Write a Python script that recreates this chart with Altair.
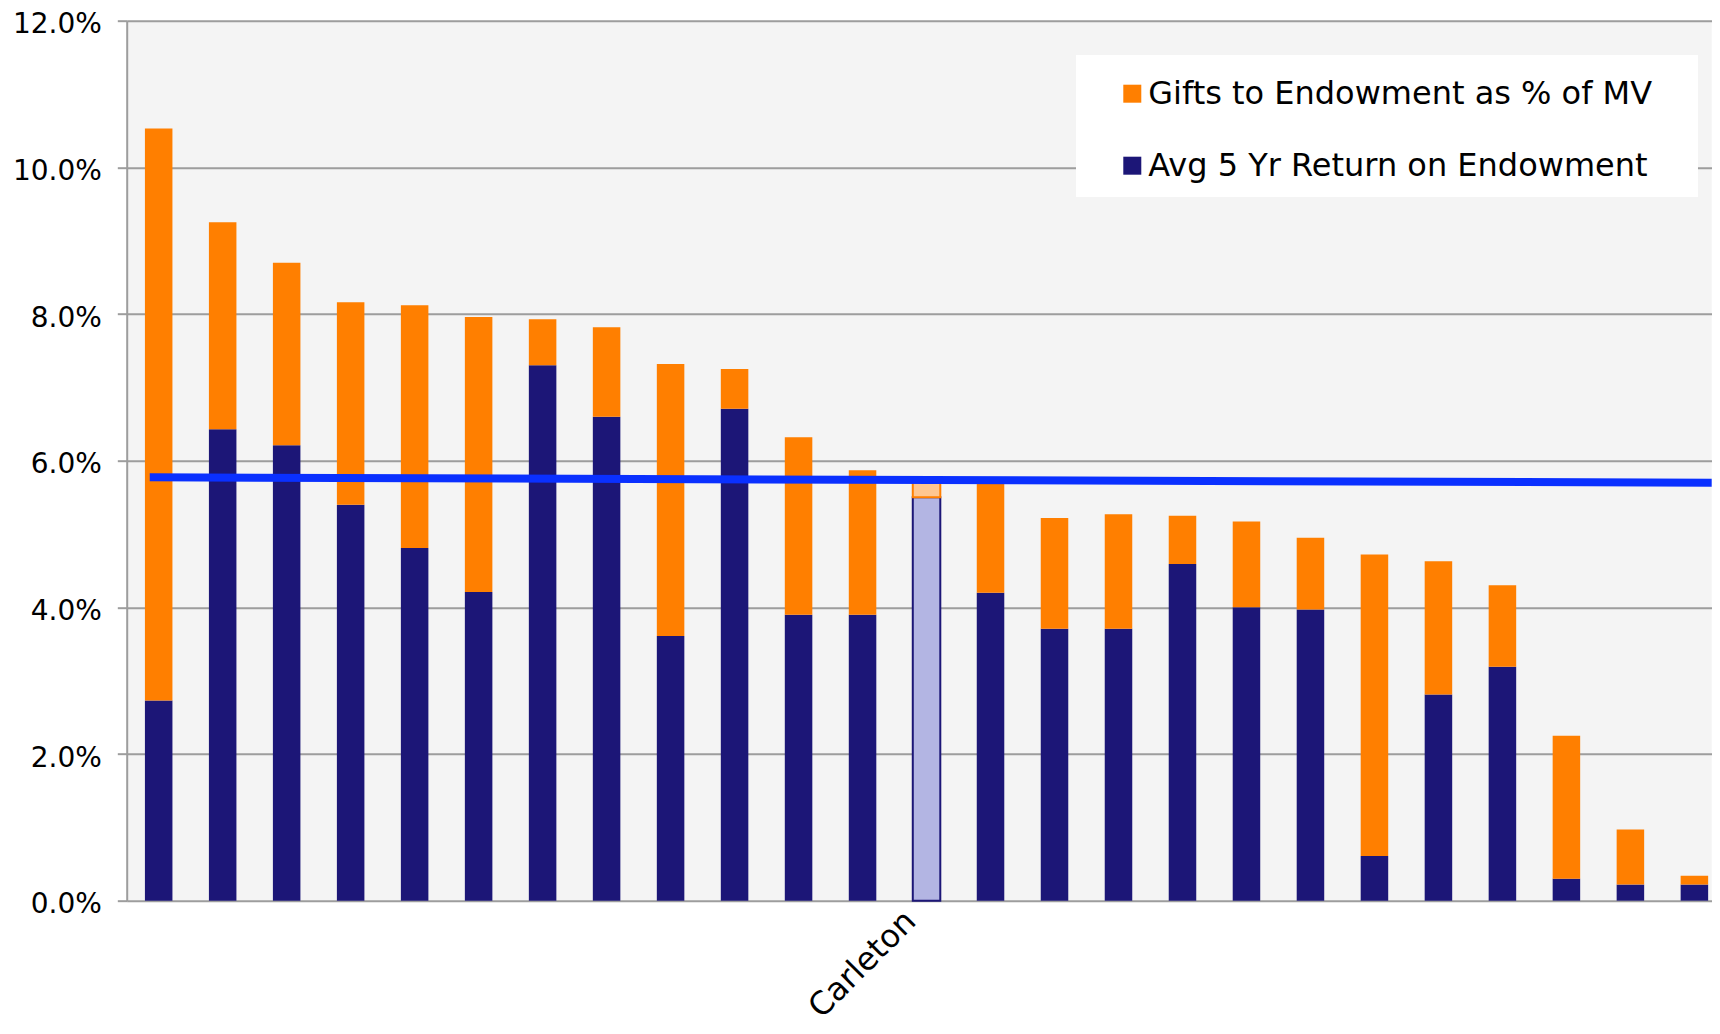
import altair as alt
import pandas as pd

# ---- data ----
schools = [
    "Peer 1", "Peer 2", "Peer 3", "Peer 4", "Peer 5", "Peer 6", "Peer 7",
    "Peer 8", "Peer 9", "Peer 10", "Peer 11", "Peer 12", "Carleton",
    "Peer 13", "Peer 14", "Peer 15", "Peer 16", "Peer 17", "Peer 18",
    "Peer 19", "Peer 20", "Peer 21", "Peer 22", "Peer 23", "Peer 24",
]
returns = [2.73, 6.43, 6.21, 5.40, 4.81, 4.21, 7.30, 6.60, 3.61, 6.71, 3.90, 3.90, 5.50,
           4.20, 3.71, 3.71, 4.59, 4.00, 3.97, 0.61, 2.81, 3.19, 0.30, 0.22, 0.22]
gifts = [7.80, 2.82, 2.49, 2.76, 3.31, 3.75, 0.63, 1.22, 3.71, 0.54, 2.42, 1.97, 0.24,
         1.49, 1.51, 1.56, 0.66, 1.17, 0.98, 4.11, 1.82, 1.11, 1.95, 0.75, 0.12]
# average / trend line (category-index units, percent)
trend_pos = [0.36, 24.77]
trend_val = [5.774, 5.700]
y_ticks = [0, 2, 4, 6, 8, 10, 12]

RET = "Avg 5 Yr Return on Endowment"
GIFT = "Gifts to Endowment as % of MV"
ORANGE = "#FF7F00"
NAVY = "#1C1677"
LAV = "#B3B5E3"
LIGHT_OR = "#FFC690"
BLUE = "#0A30FF"
GRID = "#9d9d9d"
FONT = "DejaVu Sans"

rows = []
for s, r, g in zip(schools, returns, gifts):
    rows.append({"school": s, "series": RET, "lo": 0.0, "hi": r})
    rows.append({"school": s, "series": GIFT, "lo": r, "hi": round(r + g, 3)})
df = pd.DataFrame(rows)
trend_df = pd.DataFrame({"pos": trend_pos, "val": trend_val})

x_enc = alt.X(
    "school:N", sort=schools, title=None,
    scale=alt.Scale(domain=schools, paddingInner=0.57, paddingOuter=0.17, align=0.8375, round=False),
    axis=alt.Axis(
        labelExpr="datum.value == 'Carleton' ? datum.value : ''",
        labelAngle=-45, labelAlign="right", labelBaseline="middle",
        labelFontSize=32, labelFont=FONT, labelColor="black",
        labelPadding=15, labelOffset=-16, labelLimit=500,
        ticks=False, domain=False, grid=False,
    ),
)


def y_enc(field):
    return alt.Y(
        f"{field}:Q", title=None,
        scale=alt.Scale(domain=[0, 12], nice=False, zero=True),
        axis=alt.Axis(
            values=y_ticks,
            labelExpr="format(datum.value, '.1f') + '%'",
            grid=True, gridColor=GRID, gridWidth=2,
            domainColor=GRID, domainWidth=2,
            tickColor=GRID, tickWidth=2, tickSize=9.4,
            labelPadding=16, labelOffset=4, labelFontSize=28, labelFont=FONT, labelColor="black",
        ),
    )


box = alt.Chart(pd.DataFrame({"a": [0]})).mark_rect(fill="white").encode(
    x=alt.value(949.3), x2=alt.value(1571.3), y=alt.value(34.3), y2=alt.value(176.3)
)

bars = alt.Chart(df).transform_filter(alt.datum.school != "Carleton").mark_bar().encode(
    x=x_enc, y=y_enc("lo"), y2="hi:Q",
    color=alt.Color(
        "series:N",
        scale=alt.Scale(domain=[GIFT, RET], range=[ORANGE, NAVY]),
        legend=alt.Legend(
            title=None, orient="none", legendX=989.6, legendY=57,
            symbolType="square", symbolSize=324, symbolStrokeWidth=0,
            labelFontSize=32, labelFont=FONT, labelColor="black",
            rowPadding=40, padding=0, labelOffset=0, labelLimit=0,
        ),
    ),
)

carl_ret = alt.Chart(df).transform_filter(
    (alt.datum.school == "Carleton") & (alt.datum.series == RET)
).mark_bar(fill=LAV, stroke=NAVY, strokeWidth=2).encode(x=x_enc, y=y_enc("lo"), y2="hi:Q")

carl_gift = alt.Chart(df).transform_filter(
    (alt.datum.school == "Carleton") & (alt.datum.series == GIFT)
).mark_bar(fill=LIGHT_OR, stroke=ORANGE, strokeWidth=2).encode(x=x_enc, y=y_enc("lo"), y2="hi:Q")

trend = alt.Chart(trend_df).mark_line(color=BLUE, strokeWidth=8, strokeCap="butt").encode(
    x=alt.X("pos:Q", scale=alt.Scale(domain=[0, 24.77], nice=False, zero=False), axis=None),
    y=y_enc("val"),
)

bar_layers = alt.layer(box, bars, carl_ret, carl_gift)

chart = (
    alt.layer(bar_layers, trend)
    .resolve_scale(x="independent")
    .properties(
        width=1585, height=880,
        autosize=alt.AutoSizeParams(type="none"),
        padding={"left": 118.7, "top": 12.7, "right": 0, "bottom": 125},
    )
    .configure_view(fill="#F4F4F4", stroke=None)
)

chart.save("out.html", embed_options={"renderer": "svg", "actions": False})
